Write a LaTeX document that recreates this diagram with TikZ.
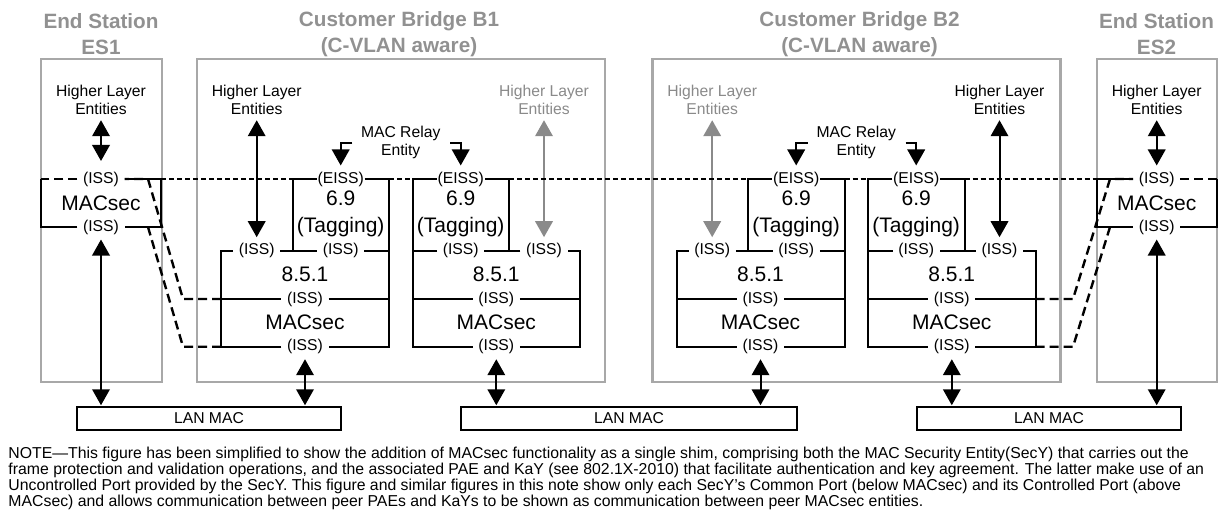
\documentclass[tikz,border=0pt]{standalone}
\usepackage{fontspec}
\setmainfont{Liberation Sans}
\usetikzlibrary{arrows.meta}

\definecolor{framegray}{RGB}{168,168,168}
\definecolor{titlegray}{RGB}{145,145,145}
\definecolor{hlgray}{RGB}{138,138,138}

\tikzset{
  framebox/.style={draw=framegray, line width=2.6pt},
  wire/.style={line width=2pt},
  lbl/.style={font=\fontsize{15.7}{18.5}\selectfont, align=center, inner sep=1pt},
  iss/.style={lbl, fill=white, inner xsep=5.5pt},
  eiss/.style={lbl, fill=white, inner xsep=0.6pt},
  bigtext/.style={font=\fontsize{21}{26.6}\selectfont, align=center, inner sep=1pt},
  titletext/.style={font=\fontsize{20.7}{26}\selectfont\bfseries, text=titlegray, align=center, inner sep=1pt},
  lanbox/.style={draw, line width=2pt, minimum height=23.5pt, inner sep=0pt,
    font=\fontsize{15.7}{18.5}\selectfont},
  twoway/.style={line width=2pt,
    {Triangle[width=17.5pt,length=16pt]}-{Triangle[width=17.5pt,length=16pt]}},
  oneway/.style={line width=2pt, -{Triangle[width=17.5pt,length=16pt]}},
  peerlink/.style={line width=2.4pt, dash pattern=on 9pt off 5pt},
  serviceline/.style={line width=1.2pt, dash pattern=on 5pt off 3pt},
  notetext/.style={font=\fontsize{15.8}{16}\selectfont, anchor=base west, inner sep=0pt},
}

% One customer bridge: two ports, each a tagging shim (6.9) over the
% port connectivity (8.5.1) over a MACsec shim.
% #1 name prefix, #2 horizontal offset, #3/#4 colour of the left/right higher layer entities
\newcommand{\custbridge}[4]{%
\begin{scope}[xshift=#2]
  \draw[framebox] (197,59) rectangle (605,382);
  % left port
  \node[lbl, text=#3] (#1Lhl) at (256.7,100) {Higher Layer\\Entities};
  \node[eiss] (#1LE) at (340.7,179) {(EISS)};
  \node[bigtext] (#1Ltag) at (340.7,214) {6.9\\(Tagging)};
  \node[iss] (#1LhlI) at (256.7,250.7) {(ISS)};
  \node[iss] (#1LtgI) at (340.7,250.7) {(ISS)};
  \node[bigtext] (#1Lnum) at (305,274) {8.5.1};
  \node[iss] (#1LmI) at (305,299) {(ISS)};
  \node[bigtext] (#1Lsec) at (305,322) {MACsec};
  \node[iss] (#1LbI) at (305,346.7) {(ISS)};
  \coordinate (#1Ltl) at (292.7,179);
  \coordinate (#1Ltr) at (389,179);
  \coordinate (#1Lml) at (221,299);
  \coordinate (#1Lbl) at (221,346.7);
  \draw[wire] (292.7,250.7) -- (#1Ltl) -- (#1LE) -- (#1Ltr) -- (389,346.7) -- (#1LbI)
    -- (#1Lbl) -- (221,250.7) -- (#1LhlI) -- (#1LtgI) -- (389,250.7);
  \draw[wire] (#1Lml) -- (#1LmI) -- (389,299);
  \draw[twoway, color=#3, shorten <=4pt, shorten >=5pt] (#1Lhl) -- (#1LhlI);
  % right port
  \node[lbl, text=#4] (#1Rhl) at (544,100) {Higher Layer\\Entities};
  \node[eiss] (#1RE) at (460.7,179) {(EISS)};
  \node[bigtext] (#1Rtag) at (460.7,214) {6.9\\(Tagging)};
  \node[iss] (#1RtgI) at (460.7,250.7) {(ISS)};
  \node[iss] (#1RhlI) at (544,250.7) {(ISS)};
  \node[bigtext] (#1Rnum) at (496.3,274) {8.5.1};
  \node[iss] (#1RmI) at (496.3,299) {(ISS)};
  \node[bigtext] (#1Rsec) at (496.3,322) {MACsec};
  \node[iss] (#1RbI) at (496.3,346.7) {(ISS)};
  \coordinate (#1Rtl) at (412.7,179);
  \coordinate (#1Rtr) at (509,179);
  \coordinate (#1Rmr) at (580,299);
  \coordinate (#1Rbr) at (580,346.7);
  \draw[wire] (509,250.7) -- (#1Rtr) -- (#1RE) -- (#1Rtl) -- (412.7,346.7) -- (#1RbI)
    -- (#1Rbr) -- (580,250.7) -- (#1RhlI) -- (#1RtgI) -- (412.7,250.7);
  \draw[wire] (412.7,299) -- (#1RmI) -- (#1Rmr);
  \draw[twoway, color=#4, shorten <=4pt, shorten >=5pt] (#1Rhl) -- (#1RhlI);
  % relay between the two ports
  \node[lbl] (#1relay) at (400.7,142.5) {MAC Relay\\Entity};
  \coordinate (#1Lrs) at (352.3,142.7);
  \coordinate (#1Rrs) at (450,142.7);
  \draw[oneway, shorten >=5pt] (#1Lrs) -| (#1LE);
  \draw[oneway, shorten >=5pt] (#1Rrs) -| (#1RE);
\end{scope}}

\begin{document}
\begin{tikzpicture}[x=1pt, y=-1pt]
\useasboundingbox (0,0) rectangle (1225,519);

% LANs
\node[lanbox, minimum width=264pt] (lan1) at (209,418.5) {LAN MAC};
\node[lanbox, minimum width=336pt] (lan2) at (629,418.5) {LAN MAC};
\node[lanbox, minimum width=264pt] (lan3) at (1049,418.5) {LAN MAC};

% titles
\node[titletext] (es1title) at (101,34) {End Station\\ES1};
\node[titletext] (b1title) at (399,34) {Customer Bridge B1\\(C-VLAN aware)};
\node[titletext] (b2title) at (859.5,34) {Customer Bridge B2\\(C-VLAN aware)};
\node[titletext] (es2title) at (1156.5,34) {End Station\\ES2};

% end station ES1
\draw[framebox] (41,59) rectangle (162,382);
\node[lbl] (es1hl) at (101,100) {Higher Layer\\Entities};
\node[iss] (es1tI) at (101,179) {(ISS)};
\node[bigtext] (es1sec) at (101,203) {MACsec};
\node[iss] (es1bI) at (101,227) {(ISS)};
\coordinate (es1tl) at (41,179);
\coordinate (es1tr) at (161,179);
\coordinate (es1bl) at (41,227);
\coordinate (es1br) at (161,227);
\draw[wire] (es1tI) -- (es1tr) -- (es1br) -- (es1bI) -- (es1bl) -- (es1tl);
\draw[twoway, shorten <=4pt, shorten >=9.5pt] (es1hl) -- (es1tI);

% bridges
\custbridge{B1}{0pt}{black}{hlgray}
\custbridge{B2}{455.5pt}{hlgray}{black}

% end station ES2
\draw[framebox] (1097,59) rectangle (1217,382);
\node[lbl] (es2hl) at (1156.7,100) {Higher Layer\\Entities};
\node[iss] (es2tI) at (1156.7,179) {(ISS)};
\node[bigtext] (es2sec) at (1156.7,203) {MACsec};
\node[iss] (es2bI) at (1156.7,227) {(ISS)};
\coordinate (es2tl) at (1097,179);
\coordinate (es2tr) at (1217,179);
\coordinate (es2bl) at (1097,227);
\coordinate (es2br) at (1217,227);
\draw[wire] (es2tI) -- (es2tl) -- (es2bl) -- (es2bI) -- (es2br) -- (es2tr);
\draw[twoway, shorten <=4pt, shorten >=5pt] (es2hl) -- (es2tI);

% EISS service level across the stations
\draw[serviceline] (es1tr) -- (B1Ltl);
\draw[serviceline] (B1Ltr) -- (B1Rtl);
\draw[serviceline] (B1Rtr) -- (B2Ltl);
\draw[serviceline] (B2Ltr) -- (B2Rtl);
\draw[serviceline] (B2Rtr) -- (es2tl);

% MACsec peer links
\coordinate (es1k1) at (148,179);
\coordinate (es1k2) at (148,227);
\coordinate (b1j1) at (183,299);
\coordinate (b1j2) at (183,346.7);
\draw[peerlink] (B1Lml) -- (b1j1) -- (es1k1) -- (es1tI);
\draw[peerlink] (es1tI) -- (es1tl);
\draw[peerlink] (B1Lbl) -- (b1j2) -- (es1k2);
\coordinate (es2k1) at (1110,179);
\coordinate (es2k2) at (1110,227);
\coordinate (b2j1) at (1073,299);
\coordinate (b2j2) at (1073,346.7);
\draw[peerlink] (B2Rmr) -- (b2j1) -- (es2k1) -- (es2tI);
\draw[peerlink] (es2tI) -- (es2tr);
\draw[peerlink] (B2Rbr) -- (b2j2) -- (es2k2);

% attachment to the LANs
\draw[twoway, shorten <=4pt, shorten >=0.5pt] (es1bI) -- (es1bI |- lan1.north);
\draw[twoway, shorten <=4pt, shorten >=0.5pt] (B1LbI) -- (B1LbI |- lan1.north);
\draw[twoway, shorten <=4pt, shorten >=0.5pt] (B1RbI) -- (B1RbI |- lan2.north);
\draw[twoway, shorten <=4pt, shorten >=0.5pt] (B2LbI) -- (B2LbI |- lan2.north);
\draw[twoway, shorten <=4pt, shorten >=0.5pt] (B2RbI) -- (B2RbI |- lan3.north);
\draw[twoway, shorten <=4pt, shorten >=0.5pt] (es2bI) -- (es2bI |- lan3.north);

% note
\node[notetext] (note1) at (8.3,458.3) {NOTE—This figure has been simplified to show the addition of MACsec functionality as a single shim, comprising both the MAC Security Entity(SecY) that carries out the};
\node[notetext] (note2) at (8.3,474.3) {frame protection and validation operations, and the associated PAE and KaY (see 802.1X-2010) that facilitate authentication and key agreement. The latter make use of an};
\node[notetext] (note3) at (8.3,490.5) {Uncontrolled Port provided by the SecY. This figure and similar figures in this note show only each SecY’s Common Port (below MACsec) and its Controlled Port (above};
\node[notetext] (note4) at (8.3,506.7) {MACsec) and allows communication between peer PAEs and KaYs to be shown as communication between peer MACsec entities.};
\end{tikzpicture}
\end{document}
